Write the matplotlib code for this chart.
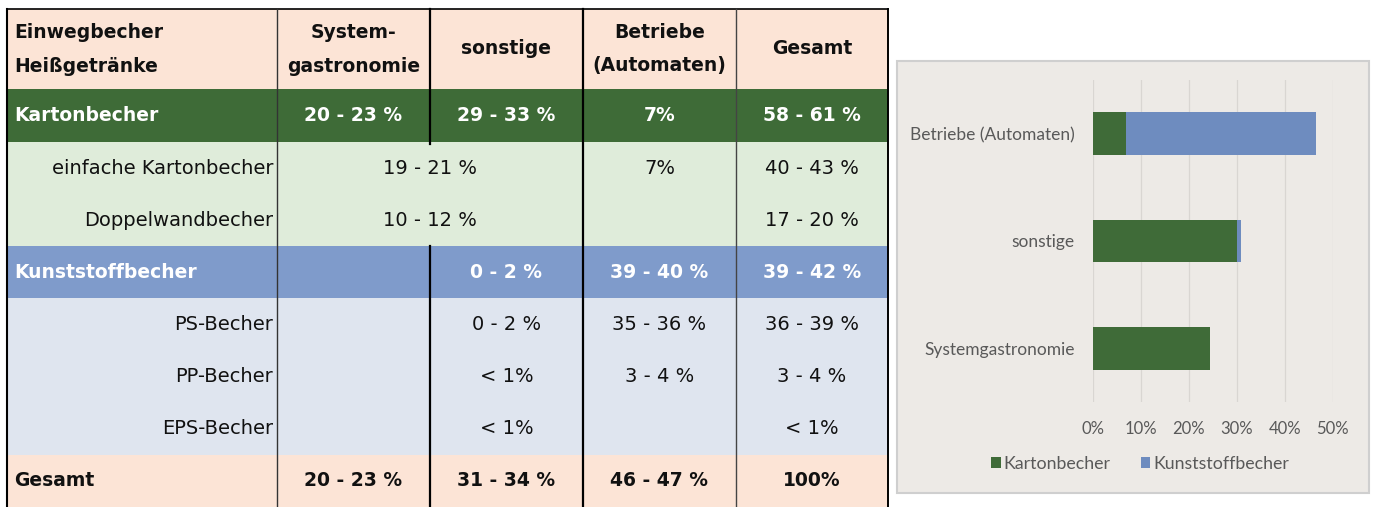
import matplotlib
matplotlib.use("Agg")
from matplotlib import pyplot as plt
from matplotlib.patches import Rectangle

# Tabelle: Anteile Einwegbecher fuer Heissgetraenke
header = ["Einwegbecher\nHeißgetränke", "System-\ngastronomie", "sonstige",
          "Betriebe\n(Automaten)", "Gesamt"]
row_labels = ["Kartonbecher", "einfache Kartonbecher", "Doppelwandbecher",
              "Kunststoffbecher", "PS-Becher", "PP-Becher", "EPS-Becher", "Gesamt"]
row_kind = ["green", "sub_green", "sub_green", "blue", "sub_blue", "sub_blue",
            "sub_blue", "total"]
systemgastro = ["20 - 23 %", "19 - 21 %", "10 - 12 %", "", "", "", "", "20 - 23 %"]
sonstige = ["29 - 33 %", "", "", "0 - 2 %", "0 - 2 %", "< 1%", "< 1%", "31 - 34 %"]
merged = [False, True, True, False, False, False, False, False]
betriebe = ["7%", "7%", "", "39 - 40 %", "35 - 36 %", "3 - 4 %", "", "46 - 47 %"]
gesamt = ["58 - 61 %", "40 - 43 %", "17 - 20 %", "39 - 42 %", "36 - 39 %",
          "3 - 4 %", "< 1%", "100%"]

categories = ["Systemgastronomie", "sonstige", "Betriebe (Automaten)"]
karton = [24.4, 30.0, 7.0]
kunststoff = [0.0, 0.9, 39.5]
x_ticks = [0, 10, 20, 30, 40, 50]

colors = {"green": "#3e6b37", "sub_green": "#dfecda", "blue": "#7f9bcb",
          "sub_blue": "#dfe5ef", "total": "#fce4d6", "header": "#fce4d6"}
green_bar = "#3f6b38"
blue_bar = "#6e8cbf"

W, H = 1374, 507
fig = plt.figure(figsize=(W / 100, H / 100), dpi=100)
bg = fig.add_axes([0, 0, 1, 1], zorder=0)
bg.set_xlim(0, W)
bg.set_ylim(H, 0)
bg.axis("off")

col_x = [7, 277, 430, 583, 736, 888]
row_y = [9, 89, 142, 194, 246, 298, 350, 402, 455, 507]
centers = [(col_x[i] + col_x[i + 1]) / 2 for i in range(5)]
fs_bold = 13.5
fs_reg = 14
font = "DejaVu Sans"

# Kopfzeile
bg.add_patch(Rectangle((col_x[0], row_y[0]), col_x[-1] - col_x[0], row_y[1] - row_y[0],
                       facecolor=colors["header"], edgecolor="none"))
for i, h in enumerate(header):
    lines = h.split("\n")
    ys = [33, 66] if len(lines) == 2 else [48]
    for line, yy in zip(lines, ys):
        if i == 0:
            bg.text(14, yy, line, ha="left", va="center", fontsize=fs_bold, fontweight="bold",
                    family=font, color="#111111")
        else:
            bg.text(centers[i], yy, line, ha="center", va="center", fontsize=fs_bold,
                    fontweight="bold", family=font, color="#111111")

for r, lab in enumerate(row_labels):
    y0, y1 = row_y[r + 1], row_y[r + 2]
    kind = row_kind[r]
    bg.add_patch(Rectangle((col_x[0], y0), col_x[-1] - col_x[0], y1 - y0,
                           facecolor=colors[kind], edgecolor="none"))
    yc = (y0 + y1) / 2
    bold = kind in ("green", "blue", "total")
    tcol = "white" if kind in ("green", "blue") else "#111111"
    weight = "bold" if bold else "normal"
    fs = fs_bold if bold else fs_reg
    if kind.startswith("sub"):
        bg.text(273, yc, lab, ha="right", va="center", fontsize=fs, family=font, color=tcol)
    else:
        bg.text(14, yc, lab, ha="left", va="center", fontsize=fs, fontweight=weight,
                family=font, color=tcol)
    if merged[r]:
        vals = [(col_x[2], systemgastro[r])]
    else:
        vals = [(centers[1], systemgastro[r]), (centers[2], sonstige[r])]
    vals += [(centers[3], betriebe[r]), (centers[4], gesamt[r])]
    for xc, v in vals:
        if v:
            bg.text(xc, yc, v, ha="center", va="center", fontsize=fs, fontweight=weight,
                    family=font, color=tcol)

# Gitterlinien der Tabelle
bg.plot([col_x[0], col_x[-1]], [row_y[0], row_y[0]], color="black", lw=1.2)
bg.plot([col_x[0], col_x[0]], [row_y[0], H], color="black", lw=1.5)
bg.plot([col_x[1], col_x[1]], [row_y[0], H], color="#333333", lw=1.0)
bg.plot([col_x[2], col_x[2]], [row_y[0], row_y[2] + 2], color="black", lw=1.6)
bg.plot([col_x[2], col_x[2]], [row_y[4], H], color="black", lw=1.6)
bg.plot([col_x[3], col_x[3]], [row_y[0], H], color="black", lw=1.6)
bg.plot([col_x[4], col_x[4]], [row_y[0], H], color="#444444", lw=1.0)
bg.plot([col_x[5], col_x[5]], [row_y[0], H], color="black", lw=1.4)

# Rahmen des Diagramms
bg.add_patch(Rectangle((897, 61), 472, 432, facecolor="#edeae6", edgecolor="#cfcfcf", lw=1.5))

ax = fig.add_axes([1092.7 / W, (H - 402) / H, 240 / W, 322 / H], zorder=1)
ax.patch.set_alpha(0)
ax.barh(categories, karton, height=0.4, color=green_bar, label="Kartonbecher", zorder=3)
ax.barh(categories, kunststoff, left=karton, height=0.4, color=blue_bar,
        label="Kunststoffbecher", zorder=3)
ax.set_xlim(0, 50)
ax.set_ylim(-0.5, 2.5)
ax.set_xticks(x_ticks)
ax.set_xticklabels([f"{t}%" for t in x_ticks])
ax.grid(axis="x", color="#d9d6d2", lw=0.9, zorder=0)
ax.set_axisbelow(True)
for s in ax.spines.values():
    s.set_visible(False)
ax.tick_params(axis="x", length=0, labelsize=12, labelcolor="#595959", pad=14)
ax.tick_params(axis="y", length=0, labelsize=12.5, labelcolor="#595959", pad=13)
for t in ax.get_xticklabels() + ax.get_yticklabels():
    t.set_family("Lato")

fig.legend(loc="center", bbox_to_anchor=(1140 / W, (H - 464) / H), ncol=2, frameon=False,
           handlelength=0.55, handleheight=0.55, handletextpad=0.15, columnspacing=1.7,
           prop={"family": "Lato", "size": 12.8}, labelcolor="#595959")

fig.savefig("out.png", dpi=100)
